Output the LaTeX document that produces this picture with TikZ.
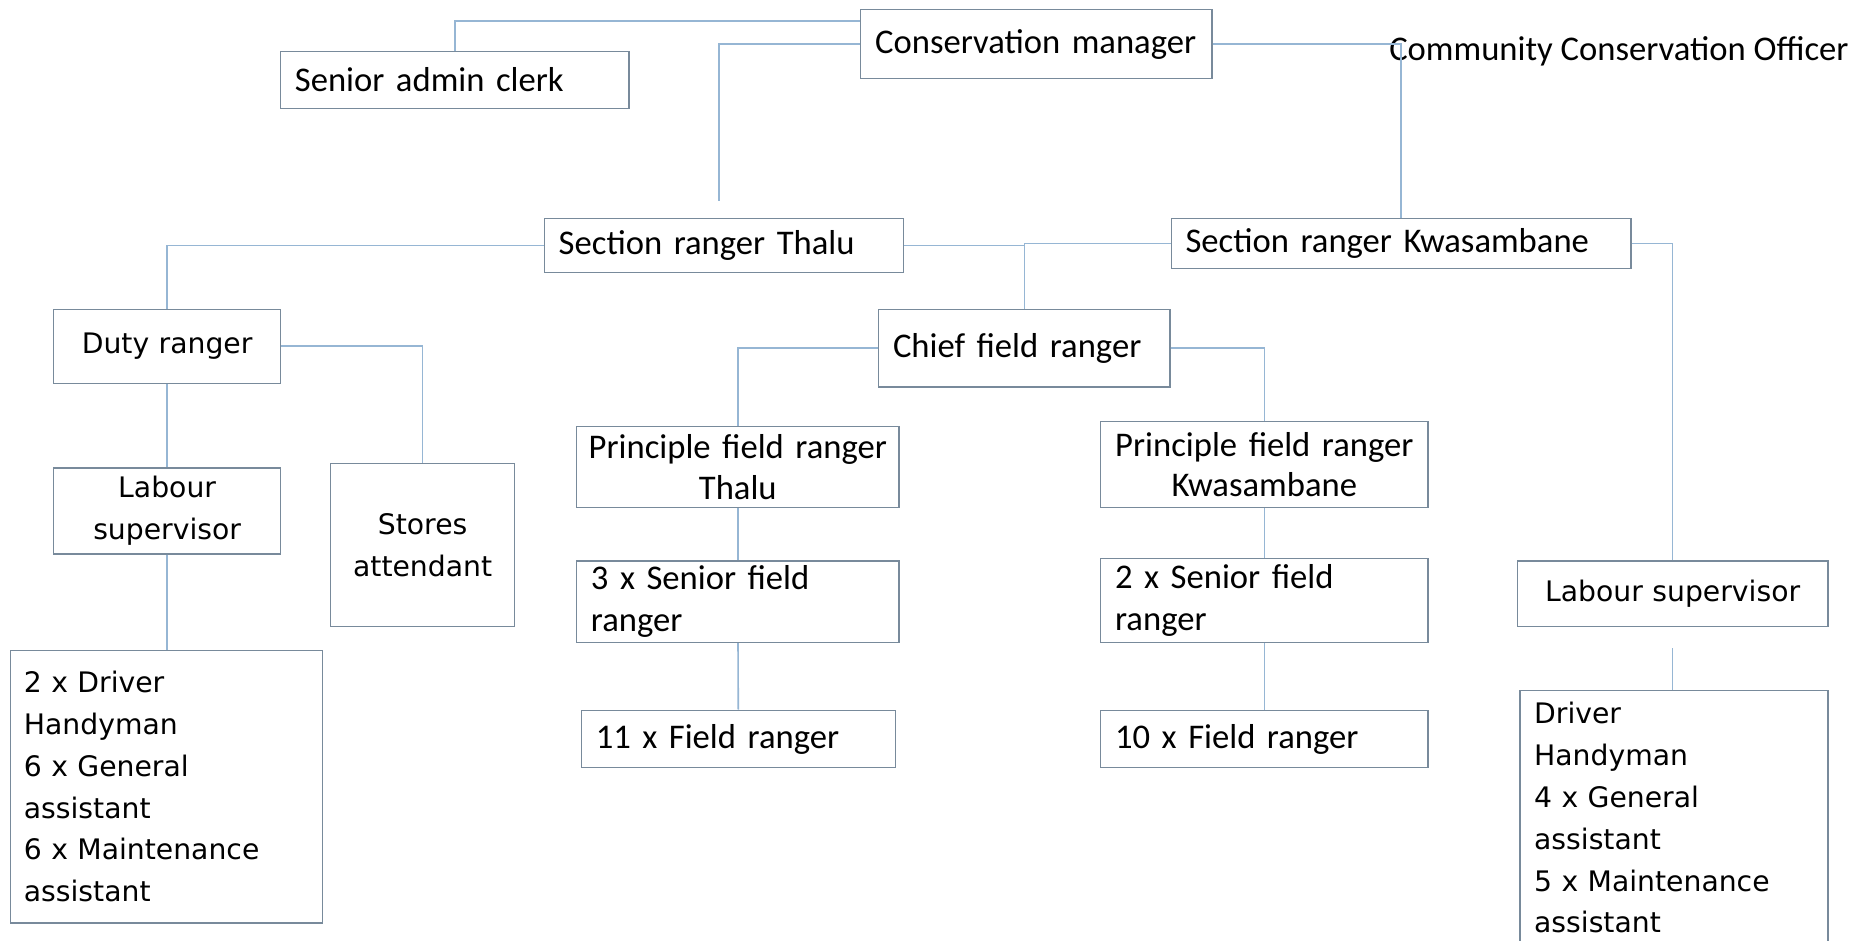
\documentclass[tikz,border=0pt]{standalone}
\usepackage{fontspec}
\newfontfamily\calib{Carlito}
\newfontfamily\verd{DejaVu Sans}
\definecolor{boxcol}{RGB}{120,138,155}
\definecolor{linkcol}{RGB}{150,182,212}
\tikzset{
  box/.style={draw=boxcol, line width=0.7pt, inner xsep=7.2pt, inner ysep=0pt},
  cal/.style={font=\fontsize{17.4}{20.4}\calib},
  ver/.style={font=\fontsize{14.2}{21}\verd},
  link/.style={draw=linkcol, line width=0.8pt}
}
\begin{document}
\begin{tikzpicture}[x=0.6pt, y=-0.6pt]
  \useasboundingbox[fill=white] (0,0) rectangle (1568,788);
  % top level
  \node[box, cal, text width=162pt, minimum height=34.8pt, align=left] (cm) at (868,37) {Conservation manager};
  \node[box, cal, text width=160.8pt, minimum height=28.8pt, align=left] (sac) at (381,67) {Senior admin clerk};
  \node[cal, inner sep=0pt] (cco) at (1356,43) {Community Conservation Officer};
  \coordinate (srtup) at (602,168);
  % section rangers
  \node[box, cal, text width=166.2pt, minimum height=27pt, align=left] (srt) at (606.5,205.5) {Section ranger Thalu};
  \node[box, cal, text width=216.6pt, minimum height=25.2pt, align=left] (srk) at (1173.5,204) {Section ranger Kwasambane};
  % Thalu side
  \node[box, ver, text width=99.6pt, minimum height=37.2pt, align=center] (dr) at (140,290) {Duty ranger};
  \node[box, ver, text width=99.6pt, minimum height=43.2pt, align=center] (ls1) at (140,428) {Labour\\supervisor};
  \node[box, ver, text width=78pt, minimum height=82.2pt, align=center] (sa) at (354,456.5) {Stores\\attendant};
  \node[box, ver, text width=143.4pt, minimum height=136.8pt, align=left, inner xsep=6.6pt] (wk1) at (139.5,659) {2 x Driver\\Handyman\\6 x General\\assistant\\6 x Maintenance\\assistant};
  % field rangers
  \node[box, cal, text width=132pt, minimum height=39pt, align=left] (cfr) at (858,291.5) {Chief field ranger};
  \node[box, cal, text width=158pt, inner xsep=2pt, minimum height=40.8pt, align=center] (pft) at (618,391) {Principle field ranger\\Thalu};
  \node[box, cal, text width=160.4pt, inner xsep=2pt, minimum height=43.2pt, align=center] (pfk) at (1059,389) {Principle field ranger\\Kwasambane};
  \node[box, cal, text width=147.6pt, minimum height=40.8pt, align=left, font=\fontsize{17.4}{21}\calib] (sft) at (618,504) {3 x Senior field\\ranger};
  \node[box, cal, text width=150pt, minimum height=42pt, align=left, font=\fontsize{17.4}{21}\calib] (sfk) at (1059,503) {2 x Senior field\\ranger};
  \node[box, cal, text width=143.4pt, minimum height=28.8pt, align=left] (frt) at (618.5,619) {11 x Field ranger};
  \node[box, cal, text width=150pt, minimum height=28.8pt, align=left] (frk) at (1059,619) {10 x Field ranger};
  % Kwasambane side
  \node[box, ver, text width=141.6pt, minimum height=33pt, align=center] (ls2) at (1401,497.5) {Labour supervisor};
  \node[box, ver, text width=140.4pt, minimum height=127.8pt, align=left, anchor=north] (wk2) at (1402,578) {Driver\\Handyman\\4 x General\\assistant\\5 x Maintenance\\assistant};
  \coordinate (ls2gap) at (1401,543);
  % connectors
  \draw[link] ([yshift=-6pt]cm.north west) -| (sac.north);
  \draw[link] (cm.west) -| (srtup);
  \draw[link] (cm.east) -| (srk.north);
  \draw[link] (srt.west) -| (dr.north);
  \draw[link] (srt.east) -| (cfr.north);
  \draw[link] (srk.west) -| (cfr.north);
  \draw[link] (srk.east) -| (ls2.north);
  \draw[link] (dr.east) -| (sa.north);
  \draw[link] (dr) -- (ls1);
  \draw[link] (ls1.south) -- (ls1.south |- wk1.north);
  \draw[link] (cfr.west) -| (pft.north);
  \draw[link] (cfr.east) -| (pfk.north);
  \draw[link] (pft) -- (sft);
  \draw[link] (sft) -- (frt);
  \draw[link] (pfk) -- (sfk);
  \draw[link] (sfk) -- (frk);
  \draw[link] (ls2gap) -- (ls2gap |- wk2.north);
\end{tikzpicture}
\end{document}
